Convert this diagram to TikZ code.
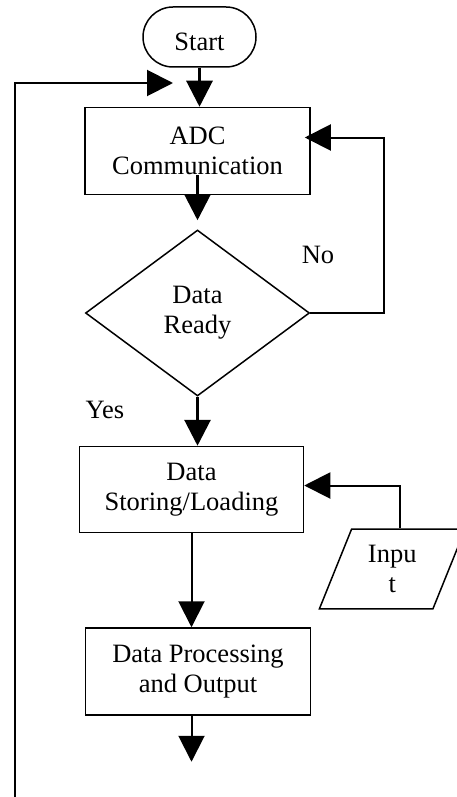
\documentclass[tikz,border=0pt]{standalone}
\usepackage{fontspec}
\setmainfont{Liberation Serif}
\usetikzlibrary{positioning,arrows.meta,calc,shapes.geometric}

\begin{document}
\begin{tikzpicture}[font=\fontsize{26.5}{30}\selectfont,>={Triangle[length=26pt,width=26pt]},line width=1.5pt,x=1pt,y=1pt]
  \tikzstyle{blk}=[draw,align=center,minimum width=225pt,minimum height=87pt,inner sep=0pt]
  \tikzstyle{flow}=[->,line width=2pt]
  \useasboundingbox (0,0) rectangle (457,-797);
  \node[draw,rounded corners=30pt,minimum width=113pt,minimum height=60pt,inner sep=0pt,text height=28pt,text depth=0pt] (start) at (199.5,-37) {Start};
  \node[blk,below=39pt of start,xshift=-2pt] (adc) {ADC\\Communication};
  \node[draw,diamond,minimum width=224pt,minimum height=166pt,inner sep=0pt,align=center,below=34pt of adc] (dec) {Data\\Ready};
  \node[blk,minimum width=224pt,minimum height=86pt,below=49pt of dec,xshift=-6pt] (store) {Data\\Storing/Loading};
  \node[blk,below=94pt of store,xshift=6.5pt] (proc) {Data Processing\\and Output};
  \node[draw,trapezium,trapezium left angle=68,trapezium right angle=112,minimum width=146pt,minimum height=71pt,inner sep=0pt,align=center] (inp) at ($(store.east)+(88,-79.5)$) {Inpu\\t};
  \node (no) at (318,-255) {No};
  \node (yes) at (105,-410) {Yes};
  \coordinate (back) at (15,-797);
  \coordinate (entry) at (173,-83);
  \coordinate (stop) at ($(store.south |- proc.south)+(0,-46)$);
  % main line
  \draw[flow,line width=3pt] (start.south) -- (start.south |- adc.north);
  \draw[flow,line width=3pt] ([yshift=20pt]adc.south) -- ([yshift=9pt]dec.north);
  \draw[flow,line width=3pt] (dec.south) -- (dec.south |- store.north);
  \draw[flow] (store.south) -- (store.south |- proc.north);
  \draw[flow] (store.south |- proc.south) -- (stop);
  % loops
  \draw[flow] (dec.east) -- ++(74,0) |- ([xshift=-6pt,yshift=13.5pt]adc.east);
  \draw[flow] ($(inp.north)+(8,0)$) |- ([yshift=4pt]store.east);
  \draw[flow] (back) |- (entry);
\end{tikzpicture}
\end{document}
